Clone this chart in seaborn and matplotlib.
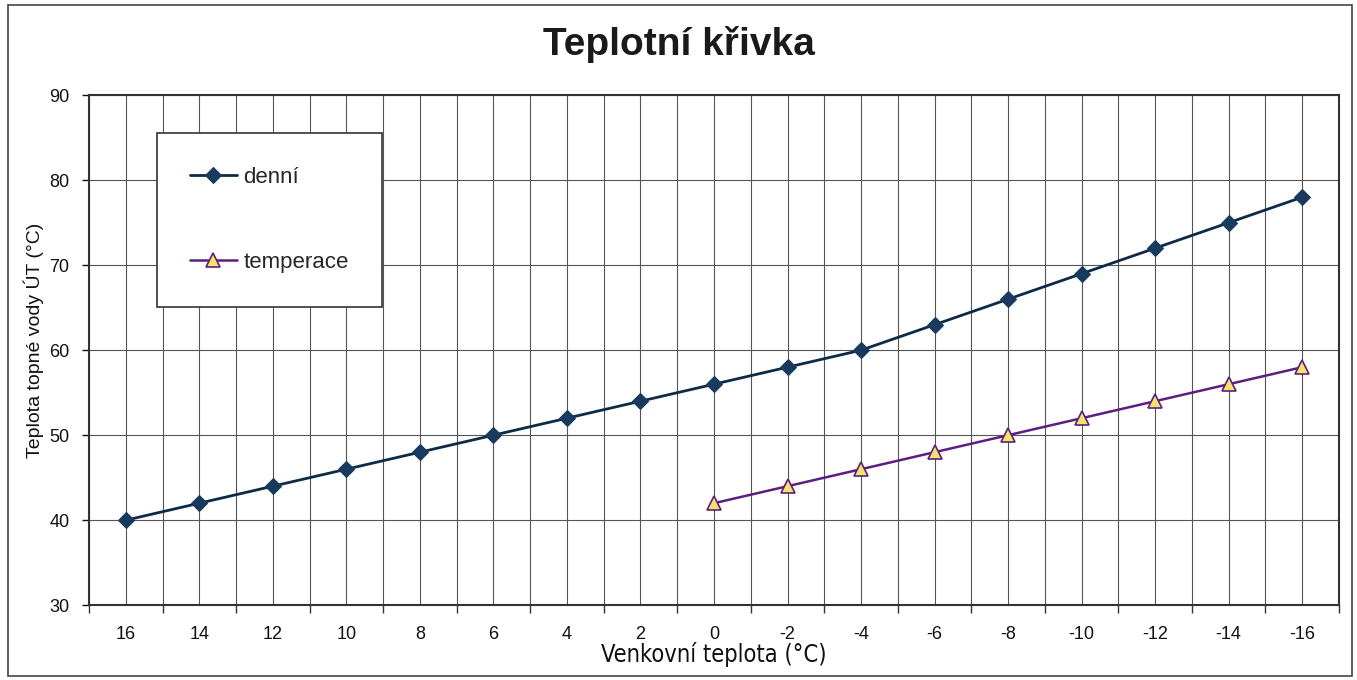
import numpy as np
import pandas as pd
import seaborn as sns
import matplotlib.pyplot as plt
from matplotlib.patches import Rectangle

# data
venkovni = ['16', '14', '12', '10', '8', '6', '4', '2', '0', '-2', '-4',
            '-6', '-8', '-10', '-12', '-14', '-16']
denni = [40, 42, 44, 46, 48, 50, 52, 54, 56, 58, 60, 63, 66, 69, 72, 75, 78]
venkovni_temp = ['0', '-2', '-4', '-6', '-8', '-10', '-12', '-14', '-16']
temperace = [42, 44, 46, 48, 50, 52, 54, 56, 58]
y_ticks = [30, 40, 50, 60, 70, 80, 90]

sns.set_theme(style='white')
plt.rcParams['font.family'] = ['Liberation Sans', 'DejaVu Sans']

fig = plt.figure(figsize=(13.57, 6.8), dpi=100)
ax = fig.add_axes([0.0656, 0.110, 0.9211, 0.750])

df1 = pd.DataFrame({'x': venkovni, 'y': denni})
df2 = pd.DataFrame({'x': venkovni_temp, 'y': temperace})

sns.lineplot(data=df1, x='x', y='y', ax=ax, color='#0f2a45', lw=2,
             marker='D', markersize=8.5, markerfacecolor='#173a5e',
             markeredgecolor='#173a5e', label='denní', sort=False)
sns.lineplot(data=df2, x='x', y='y', ax=ax, color='#5c1f80', lw=1.8,
             marker='^', markersize=10, markerfacecolor='#f3e36a',
             markeredgecolor='#5c1f80', markeredgewidth=1.2,
             label='temperace', sort=False)

n = len(venkovni)
ax.set_xlim(-0.5, n - 0.5)
ax.set_ylim(30, 90)
ax.set_yticks(y_ticks)
ax.set_xticks(np.arange(n))
ax.set_xticklabels(venkovni)
ax.set_xticks(np.arange(n + 1) - 0.5, minor=True)

ax.grid(True, which='both', axis='x', color='#555555', lw=0.8)
ax.grid(True, which='major', axis='y', color='#555555', lw=0.8)
ax.set_axisbelow(True)

ax.tick_params(axis='x', which='major', length=0, pad=15, labelsize=13,
               colors='#111111')
ax.tick_params(axis='x', which='minor', length=6, width=1, direction='out',
               color='#333333', bottom=True)
ax.tick_params(axis='y', which='major', length=5, width=1, direction='out',
               left=True, labelsize=13, colors='#111111', pad=9)

for s in ax.spines.values():
    s.set_color('#333333')
    s.set_linewidth(1.5)

ax.set_xlabel('Venkovní teplota (°C)', fontsize=17, labelpad=-1,
              family=['Liberation Sans Narrow', 'DejaVu Sans'],
              fontstretch='condensed', color='#111111')
ax.set_ylabel('Teplota topné vody ÚT (°C)', fontsize=14, labelpad=4,
              color='#111111')
ax.yaxis.label.set_y(0.52)

fig.text(0.5, 0.934, 'Teplotní křivka', ha='center', va='center',
         fontsize=28, fontweight='bold', color='#1a1a1a')

leg = ax.legend(loc='upper left', bbox_to_anchor=(0.054, 0.925),
                fontsize=16, labelspacing=2.9, handlelength=2.1,
                handletextpad=0.3, borderpad=1.5, fancybox=False,
                framealpha=1, edgecolor='#333333', borderaxespad=0)
leg.get_frame().set_linewidth(1.2)

fig.patches.append(Rectangle((8 / 1357, 4 / 680), 1344 / 1357, 671 / 680,
                             transform=fig.transFigure, fill=False,
                             edgecolor='#444444', lw=1.2))

fig.savefig('out.png', dpi=100)
